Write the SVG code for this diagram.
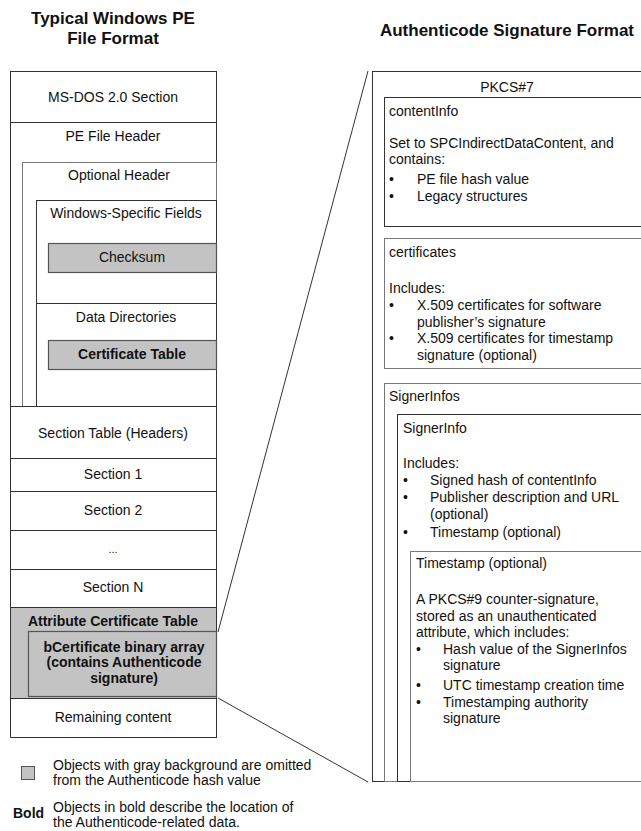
<svg xmlns="http://www.w3.org/2000/svg" width="641" height="831" viewBox="0 0 641 831">
<style>
text{font-family:"Liberation Sans",Arial,sans-serif;font-size:14px;fill:#111}
.t{font-size:17px;font-weight:bold;text-anchor:middle}
.c{text-anchor:middle}
.b{font-weight:bold}
.box{fill:#fff;stroke:#333;stroke-width:1}
.lbox{fill:#fff;stroke:#777;stroke-width:1}
.gray{fill:#c3c3c3;stroke:#555;stroke-width:1.2}
.conn{stroke:#333;stroke-width:1;fill:none}
</style>
<rect width="641" height="831" fill="#fff"/>
<g id="titles">
<text class="t" x="113" y="24">Typical Windows PE</text>
<text class="t" x="113" y="44">File Format</text>
<text class="t" x="507" y="36">Authenticode Signature Format</text>
</g>
<g id="pe-file">
<rect class="box" x="10.5" y="71.5" width="206" height="666"/>
<g id="msdos"><line x1="10" y1="122.5" x2="216" y2="122.5" stroke="#333"/><text class="c" x="113" y="102">MS-DOS 2.0 Section</text></g>
<g id="pe-header"><text class="c" x="113" y="141">PE File Header</text></g>
<g id="optional-header"><rect class="lbox" x="22.5" y="162.5" width="194" height="244"/><text class="c" x="119" y="180">Optional Header</text></g>
<g id="windows-specific"><rect class="box" x="36.5" y="200.5" width="180" height="103"/><text class="c" x="126" y="218">Windows-Specific Fields</text></g>
<g id="checksum"><rect class="gray" x="48.5" y="243.5" width="168" height="29"/><text class="c" x="132" y="262">Checksum</text></g>
<g id="data-directories"><rect class="box" x="36.5" y="303.5" width="180" height="103"/><text class="c" x="126" y="322">Data Directories</text></g>
<g id="certificate-table"><rect class="gray" x="48.5" y="340.5" width="168" height="29"/><text class="c b" x="132" y="359">Certificate Table</text></g>
<g id="section-table"><rect class="box" x="10.5" y="406.5" width="206" height="52"/><text class="c" x="113" y="438">Section Table (Headers)</text></g>
<g id="section1"><rect class="box" x="10.5" y="458.5" width="206" height="33"/><text class="c" x="113" y="479">Section 1</text></g>
<g id="section2"><rect class="box" x="10.5" y="491.5" width="206" height="39"/><text class="c" x="113" y="515">Section 2</text></g>
<g id="ellipsis"><rect class="box" x="10.5" y="530.5" width="206" height="39"/><text class="c" x="113" y="553" style="font-size:11px">...</text></g>
<g id="sectionN"><rect class="box" x="10.5" y="569.5" width="206" height="38"/><text class="c" x="113" y="592">Section N</text></g>
<g id="attribute-certificate-table"><rect x="10.5" y="607.5" width="206" height="91" fill="#c3c3c3" stroke="#333"/><text class="c b" x="113" y="626">Attribute Certificate Table</text></g>
<g id="bcertificate"><rect class="gray" x="28.5" y="631.5" width="188" height="65"/>
<text class="c b" x="124" y="652">bCertificate binary array</text>
<text class="c b" x="124" y="667">(contains Authenticode</text>
<text class="c b" x="124" y="683">signature)</text></g>
<g id="remaining"><rect class="box" x="10.5" y="698.5" width="206" height="39"/><text class="c" x="113" y="722">Remaining content</text></g>
</g>
<g id="connectors">
<line class="conn" x1="218" y1="632" x2="368" y2="71"/>
<line class="conn" x1="218" y1="698" x2="368" y2="782"/>
</g>
<g id="pkcs7">
<rect class="box" x="372.5" y="71.5" width="300" height="710"/>
<text class="c" x="507" y="92">PKCS#7</text>
</g>
<g id="contentinfo">
<rect class="box" x="384.5" y="97.5" width="290" height="129"/>
<text x="389" y="116">contentInfo</text>
<text x="389" y="148">Set to SPCIndirectDataContent, and</text>
<text x="389" y="164">contains:</text>
<text x="389" y="184">•</text><text x="417" y="184">PE file hash value</text>
<text x="389" y="201">•</text><text x="417" y="201">Legacy structures</text>
</g>
<g id="certificates">
<rect class="lbox" x="384.5" y="238.5" width="290" height="130"/>
<text x="389" y="257">certificates</text>
<text x="389" y="293">Includes:</text>
<text x="389" y="310">•</text><text x="417" y="310">X.509 certificates for software</text>
<text x="417" y="327">publisher’s signature</text>
<text x="389" y="343">•</text><text x="417" y="343">X.509 certificates for timestamp</text>
<text x="417" y="360">signature (optional)</text>
</g>
<g id="signerinfos">
<rect class="lbox" x="384.5" y="383.5" width="290" height="398"/>
<text x="389" y="401">SignerInfos</text>
</g>
<g id="signerinfo">
<rect class="box" x="397.5" y="414.5" width="280" height="367"/>
<text x="403" y="433">SignerInfo</text>
<text x="403" y="468">Includes:</text>
<text x="403" y="485">•</text><text x="430" y="485">Signed hash of contentInfo</text>
<text x="403" y="502">•</text><text x="430" y="502">Publisher description and URL</text>
<text x="430" y="519">(optional)</text>
<text x="403" y="537">•</text><text x="430" y="537">Timestamp (optional)</text>
</g>
<g id="timestamp">
<rect class="lbox" x="410.5" y="551.5" width="270" height="230"/>
<text x="416" y="568">Timestamp (optional)</text>
<text x="416" y="604">A PKCS#9 counter-signature,</text>
<text x="416" y="621">stored as an unauthenticated</text>
<text x="416" y="637">attribute, which includes:</text>
<text x="416" y="654">•</text><text x="443" y="654">Hash value of the SignerInfos</text>
<text x="443" y="670">signature</text>
<text x="416" y="690">•</text><text x="443" y="690">UTC timestamp creation time</text>
<text x="416" y="707">•</text><text x="443" y="707">Timestamping authority</text>
<text x="443" y="723">signature</text>
</g>
<g id="legend">
<rect x="21.5" y="766.5" width="13" height="13" fill="#c3c3c3" stroke="#555"/>
<text x="53" y="770">Objects with gray background are omitted</text>
<text x="53" y="785">from the Authenticode hash value</text>
<text class="b" x="13" y="818">Bold</text>
<text x="53" y="812">Objects in bold describe the location of</text>
<text x="53" y="827">the Authenticode-related data.</text>
</g>
</svg>
